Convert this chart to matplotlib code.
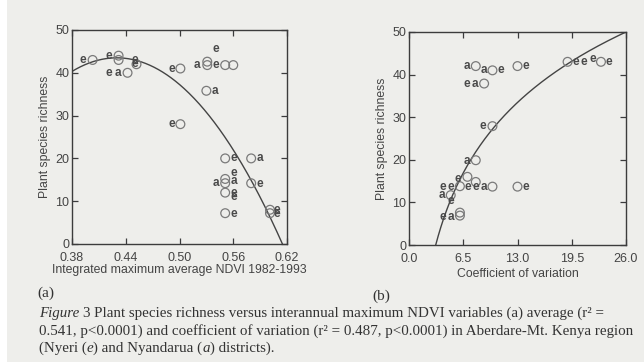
import numpy as np
import matplotlib
matplotlib.use("Agg")
import matplotlib.pyplot as plt

# ---------------- data ----------------
# Panel (a): integrated maximum average NDVI vs richness
a_circ_x = [0.403, 0.432, 0.432, 0.452, 0.442, 0.501, 0.501, 0.531, 0.531, 0.551,
            0.560, 0.530, 0.551, 0.551, 0.551, 0.551, 0.551, 0.580, 0.580, 0.601, 0.601]
a_circ_y = [43, 44, 43, 42, 40, 41, 28, 42.6, 41.8, 41.8,
            41.8, 35.8, 20, 15.2, 14.2, 12, 7.2, 20, 14.2, 8, 7.2]
a_e_x = [0.392, 0.4215, 0.450, 0.450, 0.4215, 0.491, 0.491, 0.5406, 0.540, 0.561,
         0.561, 0.561, 0.561, 0.561, 0.590, 0.609, 0.609]
a_e_y = [43, 44, 43, 42, 40, 41, 28, 45.6, 41.8, 20,
         16.7, 12, 10.9, 7, 14, 7.9, 7]
a_a_x = [0.431, 0.520, 0.540, 0.541, 0.561, 0.590]
a_a_y = [40, 41.8, 35.8, 14.2, 14.8, 20]
# quadratic fit y = peak - k (x - x0)^2
a_fit_peak, a_fit_x0, a_fit_k = 43.5, 0.43, 1272.0

# Panel (b): coefficient of variation vs richness
b_circ_x = [8.0, 10.0, 9.0, 13.0, 10.0, 8.0, 7.0, 8.0, 6.1, 10.0, 13.0, 5.0, 6.1, 6.1, 19.0, 23.0]
b_circ_y = [42, 41, 37.9, 42, 27.9, 19.9, 16.0, 14.8, 13.8, 13.7, 13.7, 11.7, 6.9, 7.6, 43, 43]
b_e_x = [11.0, 6.9, 14.0, 8.9, 5.9, 4.0, 5.0, 7.0, 8.0, 14.0, 5.0, 4.0, 20.0, 21.0, 22.0, 24.0]
b_e_y = [41, 37.9, 42, 27.9, 15.6, 13.7, 13.7, 13.7, 13.7, 13.7, 10.4, 6.6, 43, 43, 43.75, 43]
b_a_x = [6.9, 9.0, 7.9, 6.9, 9.0, 4.0, 5.0]
b_a_y = [42, 41, 37.9, 19.7, 13.7, 11.7, 6.6]
# log fit y = A ln(x / x0)
b_fit_A, b_fit_x0 = 23.87, 3.2

a_xticks = [0.38, 0.44, 0.50, 0.56, 0.62]
a_xticklabels = ["0.38", "0.44", "0.50", "0.56", "0.62"]
b_xticks = [0.0, 6.5, 13.0, 19.5, 26.0]
b_xticklabels = ["0.0", "6.5", "13.0", "19.5", "26.0"]
yticks = [0, 10, 20, 30, 40, 50]

# ---------------- style ----------------
BG = "#eeeeeb"
INK = "#3c3c3c"
SANS = ["Liberation Sans", "DejaVu Sans"]
SERIF = ["Liberation Serif", "DejaVu Serif"]
W, H = 644, 362

fig = plt.figure(figsize=(6.44, 3.62), dpi=100, facecolor=BG)
fig.patches.append(plt.Rectangle((0, 0), 7 / W, 1, transform=fig.transFigure,
                                 facecolor="white", edgecolor="none", zorder=0))

ax_a = fig.add_axes([72 / W, 1 - 244 / H, 215 / W, 214 / H])
ax_b = fig.add_axes([409 / W, 1 - 245 / H, 217 / W, 213 / H])


def style_axes(ax):
    ax.set_facecolor(BG)
    for s in ax.spines.values():
        s.set_color(INK)
        s.set_linewidth(1.0)
    ax.tick_params(direction="in", length=4, width=0.9, color=INK,
                   top=True, right=True, labelsize=9, labelcolor="#444444")
    ax.tick_params(axis="x", pad=5.5)
    ax.tick_params(axis="y", pad=2)
    for lab in ax.get_xticklabels() + ax.get_yticklabels():
        lab.set_family(SANS)


def draw_points(ax, cx, cy, ex, ey, axx, ayy):
    ax.scatter(cx, cy, s=40, facecolors="none", edgecolors="#7a7a7a", linewidths=0.9, zorder=3)
    for x, y in zip(ex, ey):
        ax.text(x, y, "e", fontsize=8.5, fontweight="bold", family=SANS, color="#4a4a4a",
                ha="center", va="center", zorder=4)
    for x, y in zip(axx, ayy):
        ax.text(x, y, "a", fontsize=8.5, fontweight="bold", family=SANS, color="#4a4a4a",
                ha="center", va="center", zorder=4)


# Panel (a)
xa = np.linspace(0.38, 0.62, 300)
ya = a_fit_peak - a_fit_k * (xa - a_fit_x0) ** 2
ax_a.plot(xa, ya, color="#444444", lw=1.0, zorder=2)
draw_points(ax_a, a_circ_x, a_circ_y, a_e_x, a_e_y, a_a_x, a_a_y)
ax_a.set_xlim(0.38, 0.62)
ax_a.set_ylim(0, 50)
ax_a.set_xticks(a_xticks)
ax_a.set_xticklabels(a_xticklabels)
ax_a.set_yticks(yticks)
style_axes(ax_a)
ax_a.set_xlabel("Integrated maximum average NDVI 1982-1993", fontsize=8.8, family=SANS,
                color="#444444", labelpad=0.5)
ax_a.set_ylabel("Plant species richness", fontsize=8.8, family=SANS, color="#444444", labelpad=3)

# Panel (b)
xb = np.linspace(b_fit_x0, 26.0, 300)
yb = b_fit_A * np.log(xb / b_fit_x0)
ax_b.plot(xb, yb, color="#444444", lw=1.0, zorder=2)
draw_points(ax_b, b_circ_x, b_circ_y, b_e_x, b_e_y, b_a_x, b_a_y)
ax_b.set_xlim(0, 26)
ax_b.set_ylim(0, 50)
ax_b.set_xticks(b_xticks)
ax_b.set_xticklabels(b_xticklabels)
ax_b.set_yticks(yticks)
style_axes(ax_b)
ax_b.set_xlabel("Coefficient of variation", fontsize=8.8, family=SANS, color="#444444", labelpad=2.5)
ax_b.set_ylabel("Plant species richness", fontsize=8.8, family=SANS, color="#444444", labelpad=3)

# panel letters
fig.text(37 / W, 1 - 293 / H, "(a)", fontsize=11, family=SERIF, color="#333333",
         ha="left", va="center")
fig.text(372 / W, 1 - 296 / H, "(b)", fontsize=11, family=SERIF, color="#333333",
         ha="left", va="center")

fig.canvas.draw()
renderer = fig.canvas.get_renderer()


def chain(x_px, y_px, pieces, size=10.8):
    x = x_px
    for txt, style in pieces:
        t = fig.text(x / W, 1 - y_px / H, txt, fontsize=size, family=SERIF, color="#333333",
                     va="baseline", ha="left", style=style)
        bb = t.get_window_extent(renderer=renderer)
        x += bb.width


chain(39, 317, [("Figure ", "italic"), ("3 ", "normal"),
                ("Plant species richness versus interannual maximum NDVI variables (a) average (r\u00b2 =", "normal")])
chain(39, 335, [("0.541, p<0.0001) and coefficient of variation (r\u00b2 = 0.487, p<0.0001) in Aberdare-Mt. Kenya region", "normal")])
chain(39, 352, [("(Nyeri (", "normal"), ("e", "italic"), (") and Nyandarua (", "normal"),
                ("a", "italic"), (") districts).", "normal")])

fig.savefig("out.png", dpi=100, facecolor=BG)
